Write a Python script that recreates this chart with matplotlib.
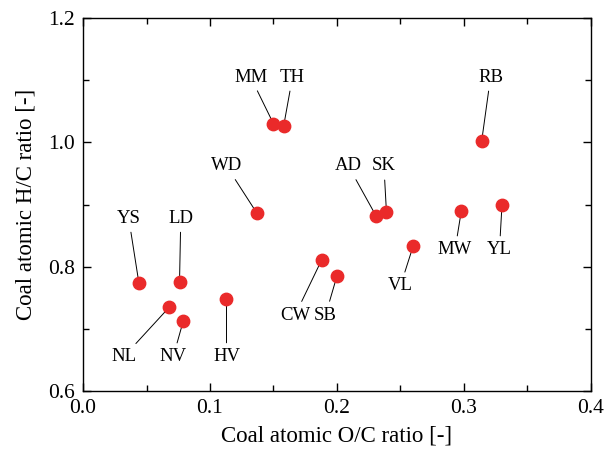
import numpy as np
import matplotlib.pyplot as plt
from matplotlib.ticker import MultipleLocator

plt.rcParams['font.family'] = ['Liberation Serif', 'DejaVu Serif']

names = ['YS', 'LD', 'NL', 'NV', 'HV', 'WD', 'MM', 'TH', 'CW', 'SB',
         'AD', 'SK', 'VL', 'MW', 'YL', 'RB']
oc = [0.044, 0.076, 0.068, 0.079, 0.113, 0.137, 0.150, 0.158, 0.188, 0.200,
      0.231, 0.239, 0.260, 0.298, 0.330, 0.314]
hc = [0.774, 0.775, 0.735, 0.713, 0.748, 0.886, 1.030, 1.026, 0.811, 0.785,
      0.881, 0.888, 0.833, 0.890, 0.899, 1.002]
# label text positions
lab_x = [0.036, 0.077, 0.032, 0.071, 0.113, 0.113, 0.132, 0.165, 0.167, 0.191,
         0.209, 0.237, 0.250, 0.293, 0.328, 0.321]
lab_y = [0.878, 0.878, 0.655, 0.655, 0.655, 0.962, 1.105, 1.105, 0.722, 0.722,
         0.962, 0.962, 0.769, 0.827, 0.827, 1.105]

fig = plt.figure(figsize=(6.06, 4.5), dpi=100)
ax = fig.add_axes([0.137, 0.131, 0.838, 0.829])

for i in range(len(names)):
    ax.annotate(names[i], xy=(oc[i], hc[i]), xytext=(lab_x[i], lab_y[i]),
                ha='center', va='center', fontsize=13.5,
                arrowprops=dict(arrowstyle='-', color='black', lw=0.7,
                                shrinkA=2, shrinkB=0))

ax.scatter(oc, hc, s=80, color='#ea2a2a', zorder=3)

ax.set_xlim(0.0, 0.4)
ax.set_ylim(0.6, 1.2)
ax.xaxis.set_major_locator(MultipleLocator(0.1))
ax.xaxis.set_minor_locator(MultipleLocator(0.05))
ax.yaxis.set_major_locator(MultipleLocator(0.2))
ax.yaxis.set_minor_locator(MultipleLocator(0.1))
ax.tick_params(which='both', direction='in', top=True, right=True,
               labelsize=15.5, width=1.0)
ax.tick_params(which='major', length=6, pad=6)
ax.tick_params(which='minor', length=4)
for sp in ax.spines.values():
    sp.set_linewidth(1.0)

ax.set_xlabel('Coal atomic O/C ratio [-]', fontsize=16.5, labelpad=5)
ax.set_ylabel('Coal atomic H/C ratio [-]', fontsize=16.5, labelpad=8)

plt.savefig('out.png', dpi=100)
